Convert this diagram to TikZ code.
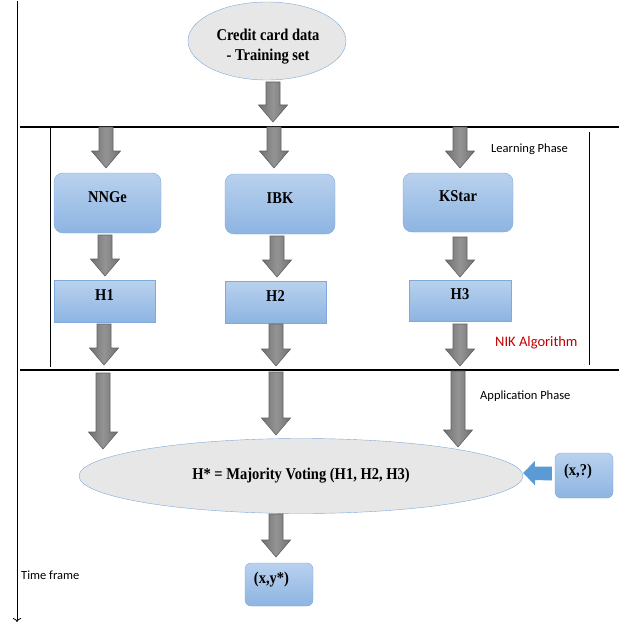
\documentclass[tikz,border=0pt]{standalone}
\usepackage{fontspec}
\setmainfont{Liberation Serif}[FakeStretch=0.88]
\newfontfamily\labelfont{Carlito}
\usetikzlibrary{arrows.meta,calc,shapes.geometric}
\definecolor{nkblue}{HTML}{5B9BD5}
\definecolor{nkboxtop}{HTML}{B9D1EE}
\definecolor{nkboxbot}{HTML}{8DB4E2}
\definecolor{nkline}{HTML}{7FA9DB}
\definecolor{nkgray}{HTML}{E7E7E7}
\definecolor{nkred}{HTML}{C00000}
\tikzset{
  algoBox/.style={draw=nkline, top color=nkboxtop, bottom color=nkboxbot, rounded corners=9pt, inner sep=0pt,
    font=\fontsize{16.5}{18}\selectfont\bfseries, text height=12pt, text depth=14pt},
  hypBox/.style={algoBox, rounded corners=0pt},
  smallBox/.style={draw=nkline, top color=nkboxtop, bottom color=nkboxbot, rounded corners=6pt, inner sep=0pt},
  boxText/.style={font=\fontsize{16.5}{20}\selectfont\bfseries, inner sep=0pt, align=center},
  grayEllipse/.style={ellipse, draw=nkline, fill=nkgray, inner sep=0pt,
    font=\fontsize{16.5}{18}\selectfont\bfseries},
  phaseLabel/.style={font=\labelfont\fontsize{12.5}{14}\selectfont, anchor=west, inner sep=0pt},
  arrowShade/.style={draw=black!62, left color=black!56, right color=black!56, middle color=black!42, line width=0.6pt}
}
% gray block arrow, pointing down from #1 to the tip #2
\newcommand{\blockArrow}[2]{%
  \path[arrowShade] let \p1=(#1), \p2=(#2) in
    (\x1-7pt,\y1) -- (\x1+7pt,\y1) -- (\x1+7pt,\y2+17pt) -- (\x1+14.5pt,\y2+17pt)
    -- (\x1,\y2) -- (\x1-14.5pt,\y2+17pt) -- (\x1-7pt,\y2+17pt) -- cycle;}

\begin{document}
\begin{tikzpicture}[x=1pt,y=-1pt]
  \useasboundingbox (0,0) rectangle (619,623);

  % time axis and phase borders
  \draw[-{To[length=4pt]}, thick] (17,1) -- (17,622);
  \draw[line width=1.3pt] (20,127) -- (619,127);
  \draw[line width=1.3pt] (20,370) -- (619,370);
  \draw (50,127) -- (50,367);
  \draw (589,132) -- (589,365);

  \node[grayEllipse, minimum width=158pt, minimum height=78pt] (data) at (267,41) {};
  \node[boxText] at ($(data)+(1,6)$) {Credit card data\\- Training set};

  \node[algoBox, minimum width=107pt, minimum height=60pt] (nnge) at (107.5,203) {NNGe};
  \node[algoBox, minimum width=110pt, minimum height=60pt] (ibk) at (280,204) {IBK};
  \node[algoBox, minimum width=110pt, minimum height=59pt] (kstar) at (458,202.5) {KStar};

  \node[hypBox, minimum width=101pt, minimum height=42pt] (h1) at (104.5,301.5) {H1};
  \node[hypBox, minimum width=101pt, minimum height=42pt] (h2) at (275.5,302) {H2};
  \node[hypBox, minimum width=102pt, minimum height=41pt] (h3) at (460,300.5) {H3};

  \node[grayEllipse, minimum width=444pt, minimum height=75pt] (vote) at (301,476)
    {H* = Majority Voting (H1, H2, H3)};

  \node[smallBox, minimum width=58pt, minimum height=45pt] (xq) at (584,475.5) {};
  \node[boxText] at ($(xq)+(-6,-3.5)$) {(x,?)};
  \node[smallBox, minimum width=68pt, minimum height=43pt] (xy) at (279,584.5) {};
  \node[boxText] at ($(xy)+(-7.5,-4.5)$) {(x,y*)};

  \node[phaseLabel] (learn) at (491,149) {Learning Phase};
  \node[phaseLabel, text=nkred, font=\labelfont\fontsize{14.5}{16}\selectfont] (nik) at (495,343) {NIK Algorithm};
  \node[phaseLabel] (apply) at (480,396) {Application Phase};
  \node[phaseLabel] (time) at (21,575) {Time frame};

  % block arrows
  \blockArrow{273,82}{273,122}
  \blockArrow{106,127}{106,168}
  \blockArrow{274,127}{274,168}
  \blockArrow{460,127}{460,168}
  \blockArrow{105,235}{105,276}
  \blockArrow{277,236}{277,277}
  \blockArrow{460,237}{460,277}
  \blockArrow{104,324}{104,365}
  \blockArrow{276,324}{276,366}
  \blockArrow{460,324}{460,366}
  \blockArrow{103,373}{103,449}
  \blockArrow{276,372}{276,435}
  \blockArrow{458,371}{458,447}
  \blockArrow{276,514}{276,557}

  % input arrow into the vote
  \fill[nkblue] ($(xq.west)+(-3,-9)$) -- ++(-17,0) -- ++(0,-5.5) -- ($(vote.east)+(0,-3)$)
    -- ++(12,12.5) -- ++(0,-5.5) -- ($(xq.west)+(-3,5)$) -- cycle;
\end{tikzpicture}
\end{document}
